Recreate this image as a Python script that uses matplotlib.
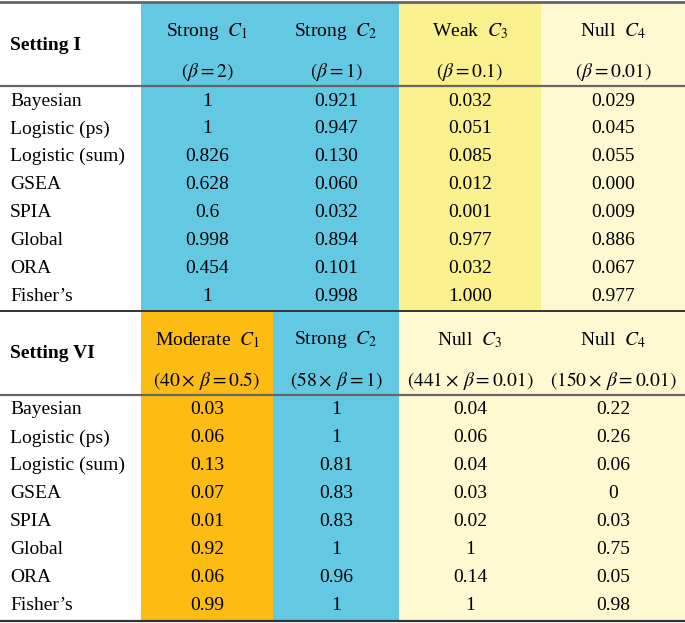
import matplotlib.pyplot as plt
from matplotlib.patches import Rectangle

plt.rcParams['font.family'] = ['Liberation Serif', 'DejaVu Serif']
plt.rcParams['mathtext.fontset'] = 'stix'

methods = ['Bayesian', 'Logistic (ps)', 'Logistic (sum)', 'GSEA', 'SPIA',
           'Global', 'ORA', "Fisher\u2019s"]

# Setting I
head1 = ['Strong  $C_1$', 'Strong  $C_2$', 'Weak  $C_3$', 'Null  $C_4$']
beta1 = [r'$(\beta = 2)$', r'$(\beta = 1)$', r'$(\beta = 0.1)$', r'$(\beta = 0.01)$']
vals1 = [
    ['1', '0.921', '0.032', '0.029'],
    ['1', '0.947', '0.051', '0.045'],
    ['0.826', '0.130', '0.085', '0.055'],
    ['0.628', '0.060', '0.012', '0.000'],
    ['0.6', '0.032', '0.001', '0.009'],
    ['0.998', '0.894', '0.977', '0.886'],
    ['0.454', '0.101', '0.032', '0.067'],
    ['1', '0.998', '1.000', '0.977'],
]

# Setting VI
head2 = ['Moderate  $C_1$', 'Strong  $C_2$', 'Null  $C_3$', 'Null  $C_4$']
beta2 = [r'$(40\times\,\beta = 0.5)$', r'$(58\times\,\beta = 1)$',
         r'$(441\times\,\beta = 0.01)$', r'$(150\times\,\beta = 0.01)$']
vals2 = [
    ['0.03', '1', '0.04', '0.22'],
    ['0.06', '1', '0.06', '0.26'],
    ['0.13', '0.81', '0.04', '0.06'],
    ['0.07', '0.83', '0.03', '0'],
    ['0.01', '0.83', '0.02', '0.03'],
    ['0.92', '1', '1', '0.75'],
    ['0.06', '0.96', '0.14', '0.05'],
    ['0.99', '1', '1', '0.98'],
]

blue = '#63C9E3'
yellow = '#FAF08E'
pale = '#FEF9D1'
orange = '#FCBC14'
colors1 = [blue, blue, yellow, pale]
colors2 = [orange, blue, pale, pale]

# column edges (pixels)
col_edges = [0, 141, 273, 399, 541, 685]

fig = plt.figure(figsize=(6.85, 6.23), dpi=100)
ax = fig.add_axes([0, 0, 1, 1])
ax.set_xlim(0, 685)
ax.set_ylim(623, 0)
ax.axis('off')


def draw_section(top, bottom, title, heads, betas, vals, colors):
    hline = top + 84
    for j, c in enumerate(colors):
        x0, x1 = col_edges[j + 1], col_edges[j + 2]
        ax.add_patch(Rectangle((x0, top), x1 - x0, bottom - top, color=c, lw=0))
    ax.text(10, top + (hline - top) / 2 + 1, title, fontsize=14, fontweight='bold',
            va='center', ha='left')
    for j in range(4):
        xc = (col_edges[j + 1] + col_edges[j + 2]) / 2
        ax.text(xc, top + 29, heads[j], fontsize=14, ha='center', va='center')
        ax.text(xc, top + 70, betas[j], fontsize=14, ha='center', va='center')
    ax.plot([0, 685], [hline, hline], color='#666666', lw=1.6)
    step = 27.9
    for i, row in enumerate(vals):
        y = hline + 15 + i * step
        ax.text(10, y, methods[i], fontsize=14, ha='left', va='center')
        for j, v in enumerate(row):
            xc = (col_edges[j + 1] + col_edges[j + 2]) / 2
            ax.text(xc, y, v, fontsize=14, ha='center', va='center')


draw_section(2, 311, 'Setting I', head1, beta1, vals1, colors1)
draw_section(311, 621, 'Setting VI', head2, beta2, vals2, colors2)

ax.plot([0, 685], [2, 2], color='#666666', lw=2)
ax.plot([0, 685], [311, 311], color='#333333', lw=1.4)
ax.plot([0, 685], [621, 621], color='#333333', lw=1.6)

fig.savefig('out.png', dpi=100)
